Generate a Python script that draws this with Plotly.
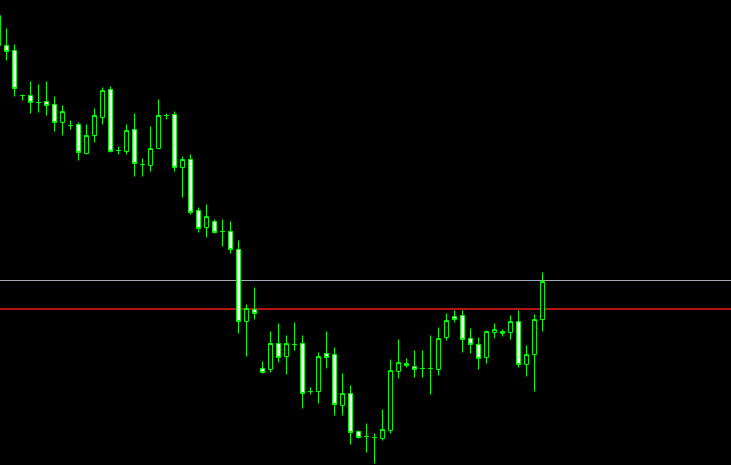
import plotly.graph_objects as go

# Bar index (0 = partially clipped bar at the left edge)
bars = list(range(69))

opens = [420, 420, 415, 370, 370, 363, 364, 361, 343, 340, 341, 312, 330, 348, 376, 315, 314, 336, 301, 300,
         317, 350, 351, 298, 306, 255, 238, 244, 234, 234, 216, 144, 156, 97, 96, 122, 109, 121, 122, 74,
         74, 112, 111, 60, 72, 34, 29, 28, 27, 35, 94, 102, 99, 97, 97, 96, 128, 149, 150, 127,
         121, 108, 133, 132, 133, 144, 101, 111, 146]
highs = [455, 437, 421, 371, 384, 381, 384, 369, 360, 345, 343, 341, 357, 378, 379, 319, 341, 352, 307, 339,
         366, 352, 354, 309, 311, 258, 261, 246, 246, 244, 225, 161, 178, 104, 134, 142, 130, 143, 130, 78,
         113, 134, 118, 92, 80, 35, 42, 32, 56, 106, 126, 107, 115, 115, 130, 138, 152, 155, 155, 137,
         128, 135, 142, 136, 150, 155, 120, 151, 193]
lows = [417, 405, 369, 365, 352, 353, 350, 334, 330, 336, 305, 311, 323, 341, 313, 311, 311, 289, 289, 294,
        317, 346, 294, 268, 251, 233, 228, 232, 219, 212, 132, 109, 146, 92, 93, 103, 91, 115, 57, 71,
        62, 97, 50, 50, 21, 27, 13, 2, 25, 32, 87, 98, 88, 88, 71, 90, 125, 143, 113, 112,
        96, 102, 127, 129, 126, 98, 89, 74, 134]
closes = [450, 414, 377, 370, 363, 363, 360, 343, 354, 340, 313, 330, 350, 375, 314, 315, 335, 302, 301, 317,
          350, 350, 298, 306, 253, 237, 249, 233, 234, 216, 144, 157, 152, 93, 122, 108, 122, 121, 72, 74,
          109, 108, 61, 72, 33, 28, 29, 28, 36, 95, 103, 100, 96, 97, 97, 127, 145, 146, 126, 121,
          107, 134, 136, 134, 144, 101, 111, 146, 184]

bid_level = 185
red_level = 156.5

GREEN = "#00ff00"

fig = go.Figure()
fig.add_trace(go.Candlestick(
    x=bars, open=opens, high=highs, low=lows, close=closes,
    increasing=dict(line=dict(color=GREEN, width=1), fillcolor="#000000"),
    decreasing=dict(line=dict(color=GREEN, width=1), fillcolor="#ffffff"),
    whiskerwidth=0,
    hoverinfo="skip",
    showlegend=False,
))

fig.add_shape(type="line", xref="paper", x0=0, x1=1, yref="y", y0=bid_level, y1=bid_level,
              line=dict(color="#a3a8b8", width=1), layer="below")
fig.add_shape(type="line", xref="paper", x0=0, x1=1, yref="y", y0=red_level, y1=red_level,
              line=dict(color="#b41414", width=2), layer="below")

fig.update_layout(
    width=731, height=465,
    margin=dict(l=0, r=0, t=0, b=0),
    paper_bgcolor="#000000", plot_bgcolor="#000000",
    showlegend=False,
    boxgap=0.3,
    xaxis=dict(range=[0.1875, 0.1875 + 731 / 8], visible=False, showgrid=False, zeroline=False,
               rangeslider=dict(visible=False), fixedrange=True),
    yaxis=dict(range=[0.5, 465.5], visible=False, showgrid=False, zeroline=False, fixedrange=True),
)

fig.write_html("out.html", config={"displayModeBar": False})

# remove the default page margin so the chart fills the window
with open("out.html", "r", encoding="utf-8") as f:
    html = f.read()
html = html.replace("<body>", '<body style="margin:0;padding:0;background:#000000;overflow:hidden">', 1)
with open("out.html", "w", encoding="utf-8") as f:
    f.write(html)
